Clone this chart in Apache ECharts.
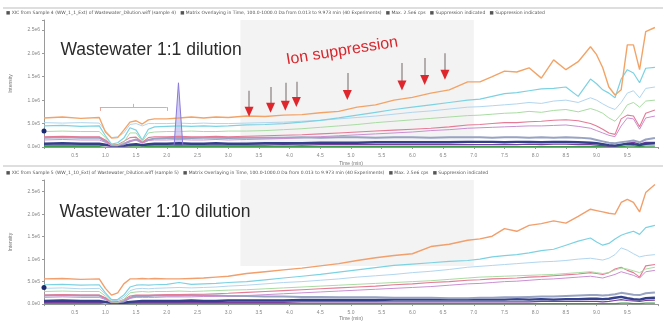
<!DOCTYPE html>
<html><head><meta charset="utf-8">
<script src="https://cdn.jsdelivr.net/npm/echarts@6/dist/echarts.min.js"></script>
<style>html,body{margin:0;padding:0;background:#fff}#c{width:666px;height:322px}</style>
</head><body><div id="c"></div>
<script>
// shared retention-time axis (min)
const T = [0,0.3,0.6,0.9,
  1.0,1.1,1.2,1.3,1.4,1.5,1.6,1.7,1.8,
  2.0,2.2,2.4,2.6,2.8,3.0,
  3.3,3.6,3.9,4.2,4.5,4.8,5.1,5.4,5.7,6.0,6.3,6.6,6.9,
  7.1,7.3,7.5,7.7,7.9,8.1,8.3,8.5,8.7,8.9,
  9.0,9.1,9.2,9.3,9.4,9.5,9.6,9.7,9.8,9.95];

// ---- Wastewater 1:1 dilution (intensity, x1e6 cps)
const topOrange = [.62,.64,.61,.63,
  .32,.19,.2,.36,.53,.56,.49,.58,.6,
  .6,.62,.64,.62,.64,.63,
  .66,.65,.68,.69,.73,.76,.85,.9,1.0,1.06,1.15,1.22,1.39,
  1.39,1.5,1.62,1.6,1.69,1.47,1.86,1.65,1.82,2.14,
  1.97,1.69,1.28,1.11,1.22,2.18,2.18,1.65,2.46,2.55];
const topCyan = [.45,.46,.44,.45,
  .24,.06,.09,.19,.41,.36,.15,.38,.43,
  .44,.45,.44,.45,.44,.45,
  .47,.48,.5,.53,.57,.62,.68,.74,.8,.85,.9,.95,1.0,
  1.02,1.08,1.14,1.16,1.2,1.24,1.25,1.28,1.08,1.45,
  1.35,1.22,1.15,1.05,1.45,1.65,1.58,1.37,1.68,1.7];
const topLightBlue = [.52,.51,.52,.51,
  .35,.2,.22,.3,.48,.5,.45,.5,.5,
  .5,.51,.5,.51,.5,.5,
  .51,.52,.53,.55,.57,.6,.63,.66,.7,.74,.77,.81,.85,
  .86,.88,.9,.92,.95,.93,.98,1.0,.95,1.05,
  1.0,.92,.85,.8,.95,1.15,1.2,1.05,1.25,1.28];
const topLightGreen = [.33,.34,.33,.33,
  .2,.05,.04,.1,.3,.3,.12,.3,.32,
  .33,.33,.34,.33,.33,.34,
  .34,.35,.37,.39,.42,.45,.48,.52,.55,.58,.61,.64,.67,
  .68,.7,.72,.73,.76,.74,.78,.8,.75,.82,
  .78,.72,.62,.55,.7,.9,.95,.85,.98,1.0];
const topPink = [.22,.23,.22,.22,
  .15,.05,.05,.12,.2,.21,.1,.2,.22,
  .22,.23,.22,.22,.23,.22,
  .23,.24,.25,.26,.28,.3,.32,.34,.36,.38,.4,.43,.47,
  .48,.5,.52,.52,.54,.55,.57,.58,.56,.5,
  .45,.38,.3,.27,.6,.68,.66,.43,.72,.79];
const topLavender = [.15,.16,.15,.15,
  .1,.03,.03,.08,.14,.15,.08,.14,.15,
  .15,.16,.15,.15,.16,.15,
  .16,.17,.18,.2,.22,.24,.26,.28,.3,.32,.35,.37,.4,
  .41,.42,.43,.44,.45,.45,.46,.47,.44,.4,
  .35,.3,.25,.22,.45,.62,.6,.38,.62,.66];
const topGrayBlue = [.2,.21,.2,.2,
  .12,.04,.04,.06,.12,.16,.1,.15,.18,
  .19,.2,.19,.2,.2,.19,
  .2,.2,.2,.21,.2,.21,.21,.2,.21,.21,.2,.21,.21,
  .21,.2,.21,.21,.2,.21,.2,.21,.2,.18,
  .15,.12,.09,.08,.1,.12,.14,.1,.16,.19];
const topNavy = [.07,.08,.07,.07,
  .05,.03,.03,.03,.05,.06,.04,.06,.07,
  .07,.08,.07,.07,.08,.07,
  .07,.08,.08,.08,.09,.09,.09,.1,.1,.1,.1,.1,.11,
  .11,.11,.1,.11,.11,.1,.11,.11,.1,.09,
  .08,.06,.04,.03,.05,.07,.06,.04,.07,.08];
const topPurple = [.04,.04,.04,.04,
  .03,.02,.02,.02,.03,.04,.03,.04,.04,
  .04,.04,.04,.04,.04,.04,
  .04,.04,.05,.04,.05,.05,.05,.05,.05,.05,.05,.05,.05,
  .05,.05,.05,.05,.06,.05,.06,.06,.05,.05,
  .04,.03,.02,.02,.04,.08,.1,.06,.1,.1];
const topGreen = [.01,.01,.01,.01,
  .03,.04,.04,.03,.02,.02,.02,.01,.01,
  .01,.01,.01,.01,.01,.01,
  .01,.01,.01,.01,.01,.01,.01,.01,.01,.01,.01,.01,.01,
  .01,.01,.01,.01,.01,.01,.01,.01,.01,.01,
  .01,.01,.01,.01,.01,.02,.02,.01,.02,.02];
// narrow peak near 2.2 min
const peakT = [2.12, 2.19, 2.26];
const peakV = [0.05, 1.37, 0.05];
// ion-suppression arrows
const arrowT = [3.34, 3.69, 3.93, 4.11, 4.94, 5.83, 6.2, 6.53];
const arrowTail = [1.2, 1.28, 1.37, 1.39, 1.58, 1.79, 1.9, 2.0];
const arrowTip = [0.64, 0.73, 0.77, 0.85, 1.0, 1.2, 1.32, 1.43];

// ---- Wastewater 1:10 dilution
const botOrange = [.56,.57,.55,.56,
  .35,.2,.25,.45,.56,.56,.57,.56,.57,
  .56,.56,.57,.58,.6,.62,
  .68,.72,.76,.8,.85,.9,.97,1.03,1.08,1.12,1.28,1.33,1.42,
  1.45,1.51,1.68,1.62,1.75,1.79,1.85,1.8,1.95,2.11,
  2.08,2.05,2.02,2.0,2.26,2.33,2.26,2.05,2.48,2.66];
const botCyan = [.43,.44,.42,.43,
  .25,.1,.1,.2,.38,.42,.43,.42,.43,
  .44,.48,.44,.45,.46,.48,
  .5,.54,.58,.62,.66,.71,.76,.81,.86,.89,.92,.95,.97,
  1.0,1.05,1.08,1.1,1.14,1.19,1.22,1.31,1.4,1.47,
  1.38,1.31,1.35,1.45,1.53,1.58,1.62,1.55,1.7,1.75];
const botLightBlue = [.35,.36,.34,.35,
  .22,.08,.08,.15,.3,.34,.35,.34,.35,
  .36,.37,.36,.37,.38,.4,
  .42,.45,.48,.5,.53,.56,.6,.63,.66,.7,.73,.77,.82,
  .84,.86,.88,.9,.92,.94,.95,.97,1.0,1.02,
  1.0,.98,1.02,1.1,1.25,1.2,1.12,1.05,1.08,1.1];
const botLightGreen = [.28,.29,.28,.28,
  .18,.05,.04,.1,.25,.27,.28,.27,.28,
  .28,.29,.28,.29,.3,.31,
  .32,.34,.36,.38,.4,.42,.44,.46,.48,.5,.52,.55,.58,
  .6,.61,.62,.63,.64,.65,.66,.68,.7,.72,
  .7,.68,.7,.76,.8,.78,.74,.7,.78,.82];
const botPink = [.2,.21,.2,.2,
  .14,.05,.05,.1,.18,.2,.2,.2,.2,
  .21,.21,.22,.22,.23,.24,
  .26,.28,.3,.32,.34,.36,.38,.4,.43,.45,.48,.5,.53,
  .54,.56,.57,.58,.6,.61,.63,.65,.67,.7,
  .68,.66,.7,.78,.82,.75,.7,.6,.85,.88];
const botLavender = [.15,.16,.15,.15,
  .1,.04,.04,.07,.13,.15,.15,.15,.15,
  .16,.16,.16,.17,.17,.18,
  .19,.21,.23,.25,.27,.29,.31,.33,.35,.37,.39,.42,.45,
  .46,.48,.5,.51,.53,.55,.56,.58,.6,.62,
  .6,.58,.62,.66,.72,.68,.64,.58,.72,.75];
const botGrayBlue = [.19,.2,.19,.19,
  .12,.04,.04,.06,.14,.18,.18,.18,.19,
  .19,.19,.2,.19,.19,.18,
  .18,.17,.17,.16,.16,.15,.15,.15,.14,.14,.14,.13,.13,
  .14,.14,.15,.15,.16,.17,.17,.18,.19,.2,
  .2,.19,.2,.22,.25,.23,.21,.2,.24,.26];
const botNavy = [.07,.08,.07,.07,
  .05,.03,.03,.03,.05,.06,.07,.07,.07,
  .07,.07,.08,.07,.07,.08,
  .08,.08,.08,.09,.09,.09,.09,.09,.1,.1,.1,.1,.1,
  .1,.1,.1,.11,.1,.11,.1,.11,.11,.12,
  .12,.11,.12,.14,.16,.13,.11,.1,.13,.14];
const botPurple = [.04,.04,.04,.04,
  .03,.02,.02,.02,.03,.04,.04,.04,.04,
  .04,.04,.04,.04,.04,.04,
  .04,.04,.04,.05,.05,.05,.05,.05,.05,.05,.05,.05,.05,
  .05,.05,.05,.05,.05,.06,.06,.06,.06,.06,
  .06,.05,.06,.08,.1,.08,.07,.06,.08,.09];
const botGreen = [.01,.01,.01,.01,
  .03,.03,.03,.02,.01,.01,.01,.01,.01,
  .01,.01,.01,.01,.01,.01,
  .01,.01,.01,.01,.01,.01,.01,.01,.01,.01,.01,.01,.01,
  .01,.01,.01,.01,.01,.01,.01,.01,.01,.01,
  .01,.01,.01,.01,.02,.02,.01,.01,.02,.02];

const yTicks = ['0.0e0','5.0e5','1.0e6','1.5e6','2.0e6','2.5e6'];

const COL = {green:'#3f9c4c', purple:'#7b3f9e', navy:'#33418a', grayBlue:'#98a3c2',
  lavender:'#c98fd2', pink:'#e57a96', lightGreen:'#a8dca2', lightBlue:'#b2d6ee',
  cyan:'#7dd2e2', orange:'#f2a468'};

function ln(vals, color, width, gi, extra) {
  return Object.assign({type:'line', xAxisIndex:gi, yAxisIndex:gi, symbol:'none', silent:true,
    animation:false, data:T.map((t,i)=>[t, vals[i]]), lineStyle:{color, width}, itemStyle:{color}}, extra||{});
}
function panelSeries(gi, s, dotY) {
  return [
    ln(s.green, COL.green, 1.2, gi),
    ln(s.purple, COL.purple, 1.2, gi),
    ln(s.navy, COL.navy, 2.4, gi, {markPoint:{silent:true, label:{show:false},
      data:[{coord:[0, dotY], symbol:'circle', symbolSize:5, itemStyle:{color:'#1b2a6e'}}]}}),
    ln(s.grayBlue, COL.grayBlue, 2, gi),
    ln(s.lavender, COL.lavender, 1, gi),
    ln(s.pink, COL.pink, 1.1, gi),
    ln(s.lightGreen, COL.lightGreen, 1, gi),
    ln(s.lightBlue, COL.lightBlue, 1, gi),
    ln(s.cyan, COL.cyan, 1.2, gi),
  ];
}
function overlay(from, to) {
  return {silent:true, itemStyle:{color:'rgba(232,232,232,0.5)'},
    data:[[{xAxis:3.2, yAxis:from},{xAxis:7.0, yAxis:to}]]};
}

const series = [];
series.push(...panelSeries(0, {green:topGreen, purple:topPurple, navy:topNavy, grayBlue:topGrayBlue,
  lavender:topLavender, pink:topPink, lightGreen:topLightGreen, lightBlue:topLightBlue, cyan:topCyan}, 0.34));
series.push(ln(topOrange, COL.orange, 1.4, 0, {markArea:overlay(0, 2.71)}));
const arrowLines = arrowT.map((t,i)=>[{coord:[t, arrowTail[i]], lineStyle:{color:'#a39c9c', width:1.6, type:'solid'}},
  {coord:[t, arrowTip[i]+0.18]}]);
const arrowHeads = arrowT.map((t,i)=>({coord:[t, arrowTip[i]+0.11], symbol:'triangle', symbolRotate:180,
  symbolSize:[9,10], itemStyle:{color:'#e0262d'}}));
const bracketStyle = {color:'#eaa59c', width:1, type:'solid'};
series.push({type:'line', xAxisIndex:0, yAxisIndex:0, symbol:'none', silent:true, animation:false,
  data:peakT.map((t,i)=>[t, peakV[i]]), lineStyle:{color:'#8a7ad8', width:1},
  areaStyle:{color:'rgba(140,128,225,0.55)'},
  markLine:{silent:true, symbol:'none', animation:false, label:{show:false},
    data:[
      ...arrowLines,
      [{coord:[0.91,0.85], lineStyle:bracketStyle},{coord:[2.0,0.85]}],
      [{coord:[0.91,0.85], lineStyle:bracketStyle},{coord:[0.91,0.77]}],
      [{coord:[2.0,0.85], lineStyle:bracketStyle},{coord:[2.0,0.77]}],
      [{coord:[1.45,0.85], lineStyle:bracketStyle},{coord:[1.45,0.92]}]
    ]},
  markPoint:{silent:true, label:{show:false}, data:arrowHeads}
});
series.push(...panelSeries(1, {green:botGreen, purple:botPurple, navy:botNavy, grayBlue:botGrayBlue,
  lavender:botLavender, pink:botPink, lightGreen:botLightGreen, lightBlue:botLightBlue, cyan:botCyan}, 0.37));
series.push(ln(botOrange, '#f19f6c', 1.4, 1, {markArea:overlay(0.85, 2.76)}));

function xAx(gi, gap) {
  return {type:'value', gridIndex:gi, min:0, max:10, interval:0.5,
    name:'Time (min)', nameLocation:'middle', nameGap:gap, nameTextStyle:{fontSize:5, color:'#777'},
    axisLine:{lineStyle:{color:'#9a9a9a'}}, axisTick:{length:2, lineStyle:{color:'#9a9a9a'}},
    axisLabel:{fontSize:5, color:'#888', margin:6, formatter:v=>(v<=0||v>=10)?'':v.toFixed(1)},
    splitLine:{show:false}};
}
function yAx(gi, max) {
  return {type:'value', gridIndex:gi, min:0, max, interval:0.5,
    name:'Intensity', nameLocation:'middle', nameGap:31, nameRotate:90, nameTextStyle:{fontSize:5, color:'#777'},
    axisLine:{show:true, lineStyle:{color:'#9a9a9a'}}, axisTick:{show:true, length:2, lineStyle:{color:'#9a9a9a'}},
    axisLabel:{fontSize:5, color:'#888', margin:4, formatter:v=>{const k=Math.round(v/0.5); return Math.abs(v-k*0.5)<1e-6 && yTicks[k] ? yTicks[k] : '';}},
    splitLine:{show:false}};
}

const topLegend = '\u25A0 XIC from Sample 4 (WW_1_1_Ext) of Wastewater_Dilution.wiff (sample 4)   \u25A0 Matrix Overlaying in Time, 100.0-1000.0 Da from 0.013 to 9.973 min (40 Experiments)   \u25A0 Max. 2.5e6 cps   \u25A0 Suppression indicated   \u25A0 Suppression indicated';
const botLegend = '\u25A0 XIC from Sample 5 (WW_1_10_Ext) of Wastewater_Dilution.wiff (sample 5)   \u25A0 Matrix Overlaying in Time, 100.0-1000.0 Da from 0.013 to 9.973 min (40 Experiments)   \u25A0 Max. 2.5e6 cps   \u25A0 Suppression indicated';

const chart = echarts.init(document.getElementById('c'), null, {renderer:'canvas'});
chart.setOption({
  animation:false,
  backgroundColor:'#ffffff',
  grid:[{left:42, right:8, top:20, height:127}, {left:42, right:8, top:180, height:128}],
  xAxis:[xAx(0, 14), xAx(1, 11)],
  yAxis:[yAx(0, 2.71), yAx(1, 2.76)],
  series,
  graphic:[
    {type:'line', z:100, shape:{x1:3, y1:8, x2:663, y2:8}, style:{stroke:'#bdbdbd', lineWidth:1}},
    {type:'text', z:100, x:6, y:13, style:{text:topLegend, font:'4.5px "DejaVu Sans"', fill:'#555', verticalAlign:'middle'}},
    {type:'line', z:100, shape:{x1:3, y1:166, x2:663, y2:166}, style:{stroke:'#bdbdbd', lineWidth:1}},
    {type:'text', z:100, x:6, y:173, style:{text:botLegend, font:'4.5px "DejaVu Sans"', fill:'#555', verticalAlign:'middle'}},
    {type:'text', z:100, x:151, y:50, style:{text:'Wastewater 1:1 dilution', font:'17.5px "Liberation Sans", Arial, sans-serif', fill:'#2b2b2b', align:'center', verticalAlign:'middle'}},
    {type:'text', z:100, x:155, y:212, style:{text:'Wastewater 1:10 dilution', font:'17.5px "Liberation Sans", Arial, sans-serif', fill:'#2b2b2b', align:'center', verticalAlign:'middle'}},
    {type:'text', z:100, x:342, y:51, rotation:0.16, style:{text:'Ion suppression', font:'16px "Liberation Sans", Arial, sans-serif', fill:'#d8262c', align:'center', verticalAlign:'middle'}}
  ]
});
</script></body></html>
